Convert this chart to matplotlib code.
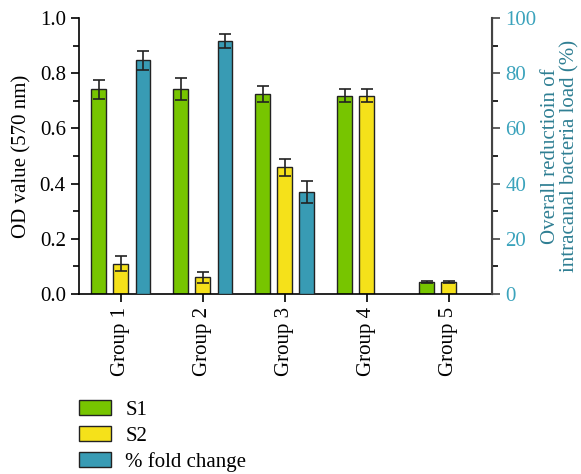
import numpy as np
import matplotlib.pyplot as plt
from matplotlib.ticker import MultipleLocator

plt.rcParams["font.family"] = ["Liberation Serif", "DejaVu Serif"]

groups = ["Group 1", "Group 2", "Group 3", "Group 4", "Group 5"]
s1 = [0.742, 0.742, 0.725, 0.718, 0.042]
s1_err = [0.035, 0.039, 0.030, 0.024, 0.004]
s2 = [0.11, 0.06, 0.459, 0.718, 0.042]
s2_err = [0.026, 0.019, 0.030, 0.024, 0.004]
fold = [84.7, 91.7, 37.0]          # % fold change, groups 1-3 only
fold_err = [3.5, 2.5, 4.0]

GREEN = "#77c500"
YELLOW = "#f5e11a"
TEAL = "#389bb4"
TEAL_TXT = "#3ba3bc"
TEAL_LAB = "#2f7f93"
FS = 15

fig = plt.figure(figsize=(5.81, 4.74), dpi=100)
ax = fig.add_axes([0.136, 0.380, 0.711, 0.582])
ax2 = ax.twinx()

x = np.arange(len(groups))
w = 0.18
off = 0.27
eb = dict(ecolor="#222222", elinewidth=1.2, capsize=4, capthick=1.2)

ax.bar(x - off, s1, w, yerr=s1_err, color=GREEN, edgecolor="#222222", linewidth=1,
       error_kw=eb, label="S1")
ax.bar(x, s2, w, yerr=s2_err, color=YELLOW, edgecolor="#222222", linewidth=1,
       error_kw=eb, label="S2")
ax2.bar(x[:len(fold)] + off, fold, w, yerr=fold_err, color=TEAL, edgecolor="#222222",
        linewidth=1, error_kw=eb, label="% fold change")

ax.set_xlim(-0.51, 4.53)
ax.set_ylim(0, 1.0)
ax2.set_ylim(0, 100)

ax.set_xticks(x)
ax.set_xticklabels(groups, rotation=90, fontsize=FS)
ax.yaxis.set_minor_locator(MultipleLocator(0.1))
ax.set_yticks(np.arange(0, 1.01, 0.2))
ax.set_yticklabels([f"{v:.1f}" for v in np.arange(0, 1.01, 0.2)], fontsize=FS)
ax.set_ylabel("OD value (570 nm)", fontsize=FS, labelpad=6)

ax2.yaxis.set_major_locator(MultipleLocator(20))
ax2.yaxis.set_minor_locator(MultipleLocator(10))
ax2.tick_params(axis="y", labelsize=FS, colors="#444444")
for t in ax2.get_yticklabels():
    t.set_color(TEAL_TXT)
ax2.set_ylabel("Overall reductioin of\nintracanal bacteria load (%)", fontsize=FS,
               color=TEAL_LAB, linespacing=1.05, labelpad=3)

for a in (ax, ax2):
    a.spines["top"].set_visible(False)
    a.tick_params(which="major", length=6, width=1.2, direction="out")
    a.tick_params(which="minor", length=4, width=1.2, direction="out")
ax.spines["left"].set_linewidth(1.2)
ax.spines["bottom"].set_linewidth(1.2)
ax2.spines["right"].set_linewidth(1.5)
ax2.spines["right"].set_color("#444444")
ax2.spines["left"].set_visible(False)
ax2.spines["bottom"].set_visible(False)
ax.tick_params(axis="x", length=6, width=1.2)

h1, l1 = ax.get_legend_handles_labels()
h2, l2 = ax2.get_legend_handles_labels()
fig.legend(h1 + h2, l1 + l2, loc="lower left", bbox_to_anchor=(0.103, -0.035),
           frameon=False, fontsize=FS, handlelength=1.55, handleheight=0.75,
           labelspacing=0.3, handletextpad=0.7)

fig.savefig("out.png", dpi=100)
